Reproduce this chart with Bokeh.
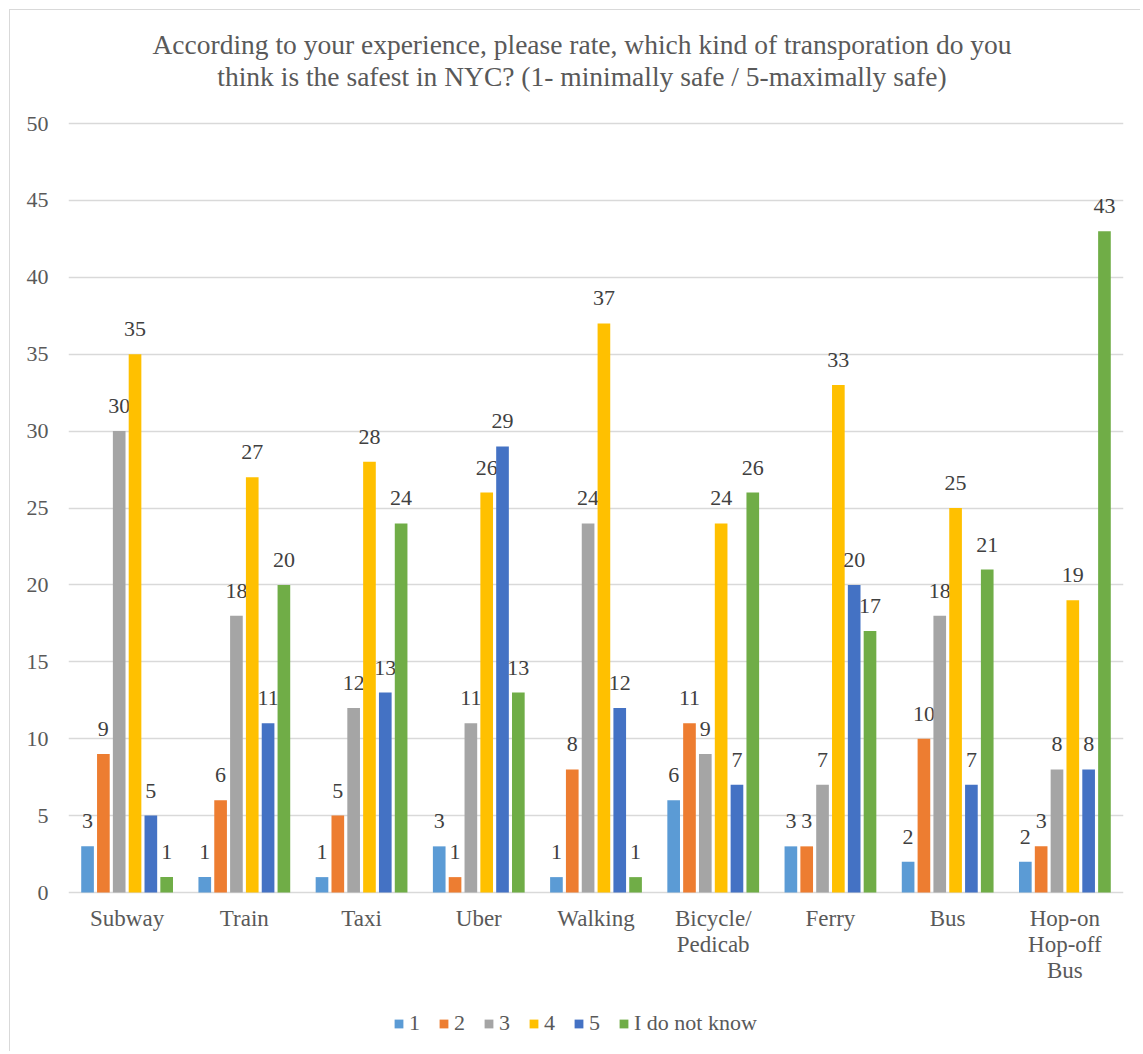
from bokeh.plotting import figure
from bokeh.models import (ColumnDataSource, FactorRange, Range1d, FixedTicker,
                          Legend, LegendItem)
from bokeh.transform import dodge
from bokeh.core.properties import value
from bokeh.embed import file_html
from bokeh.resources import INLINE

# ---------------- data ----------------
categories = ["Subway", "Train", "Taxi", "Uber", "Walking", "Bicycle/Pedicab",
              "Ferry", "Bus", "Hop-on Hop-off Bus"]
category_labels = {"Bicycle/Pedicab": "Bicycle/\nPedicab",
                   "Hop-on Hop-off Bus": "Hop-on\nHop-off\nBus"}
series_names = ["1", "2", "3", "4", "5", "I do not know"]
rating_1 = [3, 1, 1, 3, 1, 6, 3, 2, 2]
rating_2 = [9, 6, 5, 1, 8, 11, 3, 10, 3]
rating_3 = [30, 18, 12, 11, 24, 9, 7, 18, 8]
rating_4 = [35, 27, 28, 26, 37, 24, 33, 25, 19]
rating_5 = [5, 11, 13, 29, 12, 7, 20, 7, 8]
dont_know = [1, 20, 24, 13, 1, 26, 17, 21, 43]
y_ticks = [0, 5, 10, 15, 20, 25, 30, 35, 40, 45, 50]
title_line_1 = "According to your experience, please rate, which kind of transporation do you"
title_line_2 = "think is the safest in NYC? (1- minimally safe / 5-maximally safe)"

series_values = [rating_1, rating_2, rating_3, rating_4, rating_5, dont_know]
colors = ["#5B9BD5", "#ED7D31", "#A5A5A5", "#FFC000", "#4472C4", "#70AD47"]

FONT = "Liberation Serif"
TXT = "#595959"

# ---------------- layout (pixels) ----------------
CANVAS_X, CANVAS_Y = 10, 10          # page position of the canvas origin
W, H = 1131, 1042
FRAME_L, FRAME_R = 68, 1123          # page x of the plot area edges
BT, BB = 4, 4
BL = FRAME_L - CANVAS_X
BR = CANVAS_X + W - FRAME_R
Y_MAX = 50
PX_ZERO, PX_TOP = 892, 123           # page y of value 0 and value 50
px_per_unit = (PX_ZERO - PX_TOP) / Y_MAX
frame_top = CANVAS_Y + BT
frame_bottom = CANVAS_Y + H - BB
y_hi = Y_MAX + (PX_TOP - frame_top) / px_per_unit
y_lo = -(frame_bottom - PX_ZERO) / px_per_unit
LEGEND_CENTER_Y = 1023
LEGEND_HALF_H = 13

factors = [category_labels.get(c, c) for c in categories]

p = figure(x_range=FactorRange(*factors, range_padding=0),
           y_range=Range1d(y_lo, y_hi),
           width=W, height=H,
           output_backend="svg", toolbar_location=None,
           min_border_left=BL, min_border_right=BR,
           min_border_top=BT, min_border_bottom=BB)
p.styles = {"border-left": "1px solid #d9d9d9", "border-top": "1px solid #d9d9d9",
            "margin-left": "9px", "margin-top": "9px"}
p.outline_line_color = None
p.background_fill_color = "white"
p.border_fill_color = "white"

# y axis
p.yaxis.ticker = FixedTicker(ticks=y_ticks)
p.yaxis.axis_line_color = None
p.yaxis.major_tick_line_color = None
p.yaxis.minor_tick_line_color = None
p.yaxis.major_label_standoff = 14
p.yaxis.major_label_text_font = FONT
p.yaxis.major_label_text_font_size = "22px"
p.yaxis.major_label_text_color = TXT

p.xaxis.visible = False
p.xgrid.grid_line_color = None
p.ygrid.grid_line_color = "#d9d9d9"
p.ygrid.grid_line_width = 1.5

# title
mid_x = len(categories) / 2
p.text(x=[mid_x], y=[Y_MAX], text=[title_line_1], x_offset=-14, y_offset=-79,
       text_align="center", text_baseline="alphabetic",
       text_font=value(FONT), text_font_size="27.5px", text_color=TXT)
p.text(x=[mid_x], y=[Y_MAX], text=[title_line_2], x_offset=-14, y_offset=-47,
       text_align="center", text_baseline="alphabetic",
       text_font=value(FONT), text_font_size="27.5px", text_color=TXT)

# category labels
p.text(x=factors, y=[0] * len(factors), text=factors, y_offset=13,
       text_align="center", text_baseline="top", text_line_height=1.04,
       text_font=value(FONT), text_font_size="23px", text_color=TXT)

pitch = 0.135
bar_w = 0.108
items = []
for i, (name, vals, col) in enumerate(zip(series_names, series_values, colors)):
    off = (i - 2.5) * pitch
    src = ColumnDataSource(dict(cat=factors, val=vals, lab=[str(v) for v in vals]))
    r = p.vbar(x=dodge("cat", off, range=p.x_range), top="val", width=bar_w,
               source=src, fill_color=col, line_color=None)
    p.text(x=dodge("cat", off, range=p.x_range), y="val", text="lab", source=src,
           text_align="center", text_baseline="alphabetic", y_offset=-25,
           text_font=value(FONT), text_font_size="22px", text_color="#404040")
    items.append(LegendItem(label=name, renderers=[r]))

legend = Legend(items=items, orientation="horizontal",
                location=(397 - 4 - FRAME_L, frame_bottom - LEGEND_CENTER_Y - LEGEND_HALF_H),
                glyph_width=11, glyph_height=11, label_standoff=5, spacing=18,
                label_width=10,
                label_text_font=FONT, label_text_font_size="22px",
                label_text_color=TXT, border_line_color=None,
                background_fill_alpha=0, padding=4, margin=0)
p.add_layout(legend, "center")

open("out.html", "w").write(file_html(p, INLINE))
